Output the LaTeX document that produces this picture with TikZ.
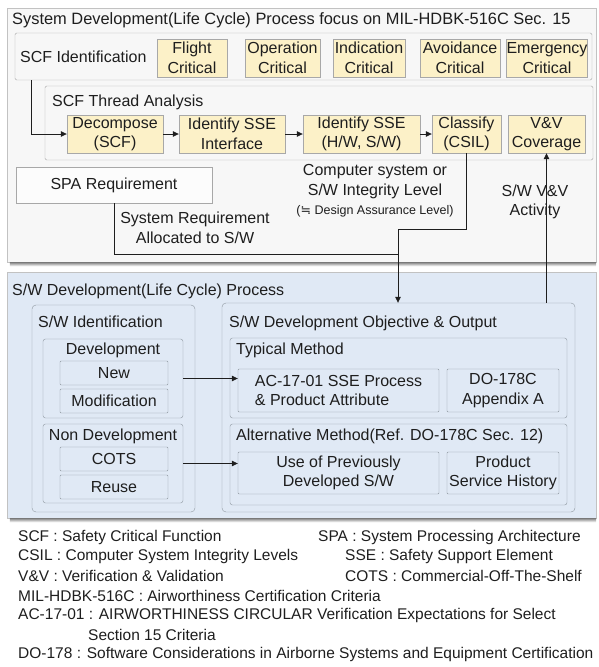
\documentclass[tikz,border=0pt]{standalone}
\usepackage{fontspec}
\setmainfont{Liberation Sans}
\newfontfamily\symfont{DejaVu Sans}
\usetikzlibrary{arrows.meta,positioning,calc}
\definecolor{sysfill}{HTML}{F7F7F7}
\definecolor{swfill}{HTML}{E0E9F5}
\definecolor{critfill}{HTML}{FCF1C8}
\definecolor{edge}{HTML}{A8A8A8}
\definecolor{swedge}{HTML}{8E979F}
\definecolor{shade}{HTML}{6E6E6E}
\definecolor{ink}{HTML}{1E1E1E}
\tikzset{
  panel/.style={draw=edge!70, fill=sysfill, inner sep=0pt},
  stagebox/.style={draw=edge, fill=sysfill, rounded corners=1.5pt, inner sep=0pt},
  critbox/.style={draw=edge, fill=critfill, align=center, inner sep=0pt},
  reqbox/.style={draw=edge, fill=white!60!sysfill, inner sep=0pt},
  swpanel/.style={draw=edge!70, fill=swfill, inner sep=0pt},
  swgroup/.style={draw=swedge, fill=swfill, rounded corners=4pt, inner sep=0pt},
  swsub/.style={draw=swedge, fill=swfill, rounded corners=2.5pt, inner sep=0pt},
  switem/.style={draw=swedge, fill=swfill, rounded corners=1pt, align=center, inner sep=0pt},
  caption/.style={anchor=west, inner sep=0pt},
  note/.style={align=center, inner sep=0pt},
  legend/.style={anchor=west, inner sep=0pt, font=\fontsize{15.5}{19}\selectfont},
  arr/.style={-{Triangle[length=6pt,width=5.5pt]}, line width=0.8pt, draw=ink},
  link/.style={line width=0.8pt, draw=ink}
}

\begin{document}
\begin{tikzpicture}[x=1pt, y=-1pt, font=\fontsize{16}{19.5}\selectfont, text=ink]
  \useasboundingbox (0,0) rectangle (598,667);
  % system development
  \node[panel, minimum width=589, minimum height=254] (sysdev) at (301.5,135) {};
  \fill[shade] ([xshift=3pt]sysdev.south west) rectangle ($(sysdev.south east)+(0,4)$);
  \node[caption, font=\fontsize{16.4}{19.5}\selectfont] (sysdevt) at (12,20) {System Development(Life Cycle) Process focus on MIL-HDBK-516C Sec. 15};
  \node[stagebox, minimum width=577, minimum height=47] (scfid) at (303.5,56.5) {};
  \node[caption] (scfidt) at (20,57) {SCF Identification};
  \node[critbox, minimum width=70, minimum height=38] (flight) at (192,58) {Flight\\Critical};
  \node[critbox, minimum width=75, minimum height=38] (operation) at (282.5,58) {Operation\\Critical};
  \node[critbox, minimum width=72, minimum height=38] (indication) at (369,58) {Indication\\Critical};
  \node[critbox, minimum width=80, minimum height=38] (avoidance) at (460,58) {Avoidance\\Critical};
  \node[critbox, minimum width=78, minimum height=38] (emergency) at (547,58) {Emergency\\Critical};
  \node[stagebox, minimum width=548, minimum height=74] (thread) at (319,123) {};
  \node[caption] (threadt) at (52,102) {SCF Thread Analysis};
  \node[critbox, minimum width=96, minimum height=38] (decomp) at (115,134) {Decompose\\(SCF)};
  \node[critbox, minimum width=106, minimum height=38] (ssei) at (232,134) {Identify SSE\\Interface};
  \node[critbox, minimum width=117, minimum height=38] (ssehw) at (361.5,134) {Identify SSE\\(H/W, S/W)};
  \node[critbox, minimum width=69, minimum height=38] (classify) at (466.5,134) {Classify\\(CSIL)};
  \node[critbox, minimum width=77, minimum height=38] (vvcov) at (546.5,134) {V\&V\\Coverage};
  \node[reqbox, minimum width=196, minimum height=36] (spa) at (114,185) {SPA Requirement};
  \node[note] (allocated) at (195,228) {System Requirement\\Allocated to S/W};
  \node[note] (integrity) at (375,191) {Computer system or\\S/W Integrity Level\\{\fontsize{12.5}{15}\selectfont({\symfont ≒} Design Assurance Level)}};
  \node[note] (vvact) at (535,202) {S/W V\&V\\Activity};
  % s/w development
  \node[swpanel, minimum width=589, minimum height=246] (swdev) at (301.5,395) {};
  \fill[shade] ([xshift=3pt]swdev.south west) rectangle ($(swdev.south east)+(0,4)$);
  \node[caption] (swdevt) at (12,291) {S/W Development(Life Cycle) Process};
  \node[swgroup, minimum width=163, minimum height=207] (swid) at (113.5,408.5) {};
  \node[caption] (swidt) at (38,322) {S/W Identification};
  \node[swsub, minimum width=140, minimum height=79] (devel) at (113,378.5) {};
  \node[note] (develt) at (113,350) {Development};
  \node[switem, minimum width=108, minimum height=24] (new) at (114,373) {New};
  \node[switem, minimum width=108, minimum height=24] (modif) at (114,401) {Modification};
  \node[swsub, minimum width=140, minimum height=79] (nondev) at (113,463.5) {};
  \node[note] (nondevt) at (113,436) {Non Development};
  \node[switem, minimum width=108, minimum height=24] (cots) at (114,459) {COTS};
  \node[switem, minimum width=108, minimum height=24] (reuse) at (114,487) {Reuse};
  \node[swgroup, minimum width=353, minimum height=209] (obj) at (398.5,407.5) {};
  \node[caption] (objt) at (229,323) {S/W Development Objective \& Output};
  \node[swsub, minimum width=337, minimum height=80] (typical) at (398.5,378) {};
  \node[caption] (typicalt) at (236,350) {Typical Method};
  \node[switem, align=left, minimum width=201, minimum height=43] (acproc) at (338.5,390.5) {AC-17-01 SSE Process\\\& Product Attribute};
  \node[switem, minimum width=112, minimum height=43] (doappa) at (503,390.5) {DO-178C\\Appendix A};
  \node[swsub, minimum width=337, minimum height=81] (altern) at (398.5,464.5) {};
  \node[caption] (alternt) at (236,436) {Alternative Method(Ref. DO-178C Sec. 12)};
  \node[switem, minimum width=201, minimum height=42] (useprev) at (338.5,473) {Use of Previously\\Developed S/W};
  \node[switem, minimum width=112, minimum height=42] (psh) at (503,473) {Product\\Service History};
  % connectors
  \coordinate (bend) at (398,229);
  \coordinate (merge) at (398,254);
  \draw[arr] ([xshift=17pt]scfid.south west) |- (decomp.west);
  \draw[arr] (decomp) -- (ssei);
  \draw[arr] (ssei) -- (ssehw);
  \draw[arr] (ssehw) -- (classify);
  \draw[link] (classify.south) |- (bend) -- (merge);
  \draw[arr] (spa.south) |- (merge) -- (merge |- obj.north);
  \draw[arr] (obj.north -| vvcov) -- (vvcov.south);
  \draw[arr] (devel.east) -- (devel.east -| acproc.west);
  \draw[arr] (nondev.east) -- (nondev.east -| useprev.west);
  % abbreviations
  \node[legend] (lscf) at (18,537) {SCF : Safety Critical Function};
  \node[legend] (lspa) at (318,537) {SPA : System Processing Architecture};
  \node[legend] (lcsil) at (18,556.5) {CSIL : Computer System Integrity Levels};
  \node[legend] (lsse) at (345,556.5) {SSE : Safety Support Element};
  \node[legend] (lvv) at (18,576) {V\&V : Verification \& Validation};
  \node[legend] (lcots) at (345,576) {COTS : Commercial-Off-The-Shelf};
  \node[legend] (lmil) at (18,595.5) {MIL-HDBK-516C : Airworthiness Certification Criteria};
  \node[legend] (lac) at (18,615) {AC-17-01 : AIRWORTHINESS CIRCULAR Verification Expectations for Select};
  \node[legend] (lsec) at (88,634.5) {Section 15 Criteria};
  \node[legend] (ldo) at (18,654) {DO-178 : Software Considerations in Airborne Systems and Equipment Certification};
\end{tikzpicture}
\end{document}
